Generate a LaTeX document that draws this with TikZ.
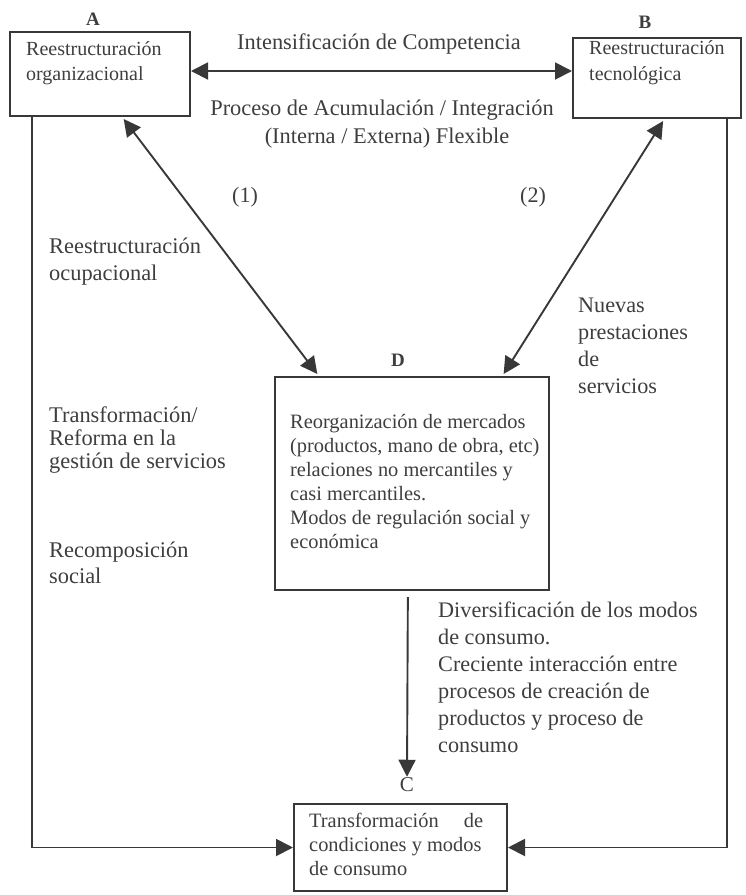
\documentclass[tikz,border=0pt]{standalone}
\usepackage{fontspec}
\setmainfont{Liberation Serif}
\usetikzlibrary{arrows.meta,calc}
\definecolor{textc}{HTML}{3E3E3E}
\definecolor{linec}{HTML}{383838}
\begin{document}
\begin{tikzpicture}[x=1pt,y=-1pt,
  box/.style={draw=linec,line width=2pt,rectangle,inner sep=0pt},
  txt/.style={inner sep=0pt,align=left,text=textc,anchor=base west},
  lbl/.style={inner sep=1pt,text=textc,font=\bfseries\fontsize{19}{19}\selectfont},
  arr/.style={draw=linec,line width=1.9pt,-{Triangle[length=17pt,width=17pt]}},
  dblarr/.style={draw=linec,line width=1.9pt,{Triangle[length=17pt,width=17pt]}-{Triangle[length=17pt,width=17pt]}}
]
\useasboundingbox (0,0) rectangle (746,895);
% boxes
\node[box,minimum width=180pt,minimum height=84pt] (A) at (100,74) {};
\node[box,minimum width=168pt,minimum height=80pt] (B) at (657,78) {};
\node[box,minimum width=274pt,minimum height=213pt] (D) at (412,483.5) {};
\node[box,minimum width=213pt,minimum height=87pt] (C) at (400.5,847.5) {};
% box labels
\node[lbl] (Al) at (93,19) {A};
\node[lbl] (Bl) at (645,22) {B};
\node[lbl] (Dl) at (398,360) {D};
\node[lbl,font=\fontsize{21}{21}\selectfont] (Cl) at (407,785) {C};
% box texts (anchor = baseline of last line)
\node[txt,font=\fontsize{20}{25}\selectfont] (At) at (26,80) {Reestructuración\\organizacional};
\node[txt,font=\fontsize{20}{26}\selectfont] (Bt) at (589,80) {Reestructuración\\tecnológica};
\node[txt,font=\fontsize{20.4}{24}\selectfont] (Dt) at (290,548) {Reorganización de mercados\\(productos, mano de obra, etc)\\relaciones no mercantiles y\\casi mercantiles.\\Modos de regulación social y\\económica};
\node[txt,font=\fontsize{20.4}{24}\selectfont] (Ct) at (309,875) {\makebox[174pt][s]{Transformación de}\\condiciones y modos\\de consumo};
% free texts
\node[txt,font=\fontsize{22.4}{28}\selectfont] (T1) at (237,49) {Intensificación de Competencia};
\node[txt,anchor=base,align=center,font=\fontsize{22.4}{28}\selectfont] (T2) at (382,143) {Proceso de Acumulación / Integración\\\hspace*{10pt}(Interna / Externa) Flexible};
\node[inner sep=0pt,text=textc,font=\fontsize{22}{22}\selectfont] (n1) at (245,197) {(1)};
\node[inner sep=0pt,text=textc,font=\fontsize{22}{22}\selectfont] (n2) at (533,197) {(2)};
\node[txt,font=\fontsize{22.4}{27}\selectfont] (L1) at (49,280) {Reestructuración\\ocupacional};
\node[txt,font=\fontsize{22.4}{23}\selectfont] (L2) at (49,468) {Transformación/\\Reforma en la\\gestión de servicios};
\node[txt,font=\fontsize{22.4}{26}\selectfont] (L3) at (49,583) {Recomposición\\social};
\node[txt,font=\fontsize{22.2}{27}\selectfont] (R1) at (578,393) {Nuevas\\prestaciones\\de\\servicios};
\node[txt,font=\fontsize{22.2}{27}\selectfont] (Bo) at (438,752) {Diversificación de los modos\\de consumo.\\Creciente interacción entre\\procesos de creación de\\productos y proceso de\\consumo};
% connectors
\draw[dblarr] (A.east |- 0,71) -- (B.west |- 0,71);
\draw[dblarr] ($(A.south west)!0.63!(A.south east)+(0,2)$) -- ($(D.north west)!0.157!(D.north east)+(0,-2)$);
\draw[dblarr] ($(B.south west)!0.536!(B.south east)+(0,2)$) -- ($(D.north west)!0.832!(D.north east)+(0,-2)$);
\draw[arr] ($(D.south west)!0.485!(D.south east)+(0,6)$) -- (Cl.north);
\draw[arr] ($(A.south west)!0.128!(A.south east)$) |- (C.west);
\draw[arr] ($(B.south west)!0.91!(B.south east)$) |- (C.east);
\end{tikzpicture}
\end{document}
